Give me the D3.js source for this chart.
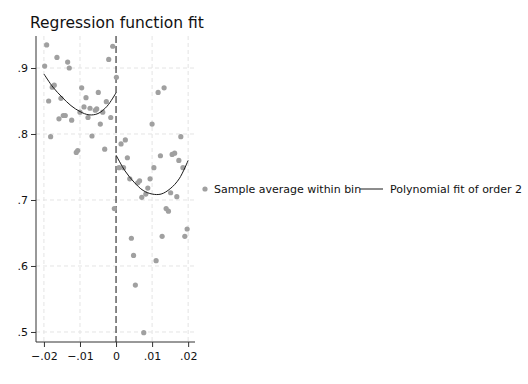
<!DOCTYPE html>
<html>
<head lang="en">
    <meta charset="UTF-8">
    <title></title>
    <script src="https://cdnjs.cloudflare.com/ajax/libs/d3/7.8.5/d3.min.js"></script>
    <style>
        body { margin: 0; background: #fff; }
        text { font-family: "DejaVu Sans", sans-serif; }
    </style>
</head>
<body>

<script>

    // bin averages, left of cutoff
    var leftX = [-0.0198, -0.01925, -0.01869, -0.01814, -0.01769, -0.01714, -0.01639, -0.01583, -0.01528, -0.01464,
                 -0.01408, -0.01342, -0.01297, -0.01231, -0.01103, -0.01064, -0.0100, -0.00953, -0.00889, -0.00833,
                 -0.00778, -0.00722, -0.00667, -0.00575, -0.00536, -0.00492, -0.00436, -0.00369, -0.00314, -0.00269,
                 -0.00203, -0.00147, -0.00092, -0.00047, 0.0001];
    var leftY = [0.903, 0.935, 0.850, 0.796, 0.871, 0.874, 0.916, 0.823, 0.854, 0.828,
                 0.828, 0.909, 0.900, 0.821, 0.772, 0.775, 0.833, 0.870, 0.841, 0.855,
                 0.825, 0.839, 0.797, 0.836, 0.838, 0.863, 0.815, 0.833, 0.777, 0.849,
                 0.913, 0.825, 0.933, 0.687, 0.886];

    // bin averages, right of cutoff
    var rightX = [0.00083, 0.00139, 0.00208, 0.00258, 0.00314, 0.00381, 0.00425, 0.00486, 0.00536, 0.00603,
                  0.00653, 0.00714, 0.00769, 0.00825, 0.00881, 0.00944, 0.0100, 0.0105, 0.01111, 0.01167,
                  0.01231, 0.01278, 0.01333, 0.01389, 0.01453, 0.01514, 0.01556, 0.01625, 0.01686, 0.01742,
                  0.01797, 0.01856, 0.01908, 0.01972];
    var rightY = [0.749, 0.785, 0.749, 0.791, 0.764, 0.732, 0.642, 0.616, 0.571, 0.726,
                  0.729, 0.704, 0.499, 0.709, 0.718, 0.732, 0.815, 0.749, 0.608, 0.863,
                  0.767, 0.645, 0.870, 0.687, 0.683, 0.711, 0.769, 0.771, 0.705, 0.760,
                  0.796, 0.749, 0.645, 0.656];

    // fitted curve
    var fitLeftX = [-0.02, -0.0175, -0.015, -0.0125, -0.01, -0.0075, -0.005, -0.0025, 0];
    var fitLeftY = [0.891, 0.871, 0.856, 0.843, 0.834, 0.829, 0.831, 0.842, 0.8625];
    var fitRightX = [0, 0.0025, 0.005, 0.0075, 0.01, 0.0125, 0.015, 0.0175, 0.02];
    var fitRightY = [0.768, 0.744, 0.727, 0.7145, 0.709, 0.709, 0.717, 0.732, 0.760];

    var xTicks = [-0.02, -0.01, 0, 0.01, 0.02];
    var yTicks = [0.5, 0.6, 0.7, 0.8, 0.9];

    var width = 528;
    var height = 384;

    var svg = d3.select("body")
            .append("svg")
            .attr("width", width)
            .attr("height", height);

    var x = d3.scaleLinear().domain([-0.0222, 0.0219]).range([36, 195]);
    var y = d3.scaleLinear().domain([0.4848, 0.9485]).range([342, 36]);

    function fmt(d) {
        if (d === 0) return "0";
        return d3.format(".2~f")(d).replace("0.", ".");
    }

    // grid
    svg.selectAll(".gx")
            .data(xTicks.filter(function(d){ return d !== 0; }))
            .enter()
            .append("line")
            .attr("x1", function(d){ return x(d); })
            .attr("x2", function(d){ return x(d); })
            .attr("y1", 36)
            .attr("y2", 342)
            .attr("stroke", "#e4e4e4")
            .attr("stroke-dasharray", "4,3");

    svg.selectAll(".gy")
            .data(yTicks)
            .enter()
            .append("line")
            .attr("x1", 36)
            .attr("x2", 195)
            .attr("y1", function(d){ return y(d); })
            .attr("y2", function(d){ return y(d); })
            .attr("stroke", "#e4e4e4")
            .attr("stroke-dasharray", "4,3");

    // axes
    var xAxis = d3.axisBottom(x).tickValues(xTicks).tickFormat(fmt).tickSize(5).tickSizeOuter(0);
    var yAxis = d3.axisLeft(y).tickValues(yTicks).tickFormat(fmt).tickSize(5).tickSizeOuter(0);

    var gx = svg.append("g").attr("transform", "translate(0,342)").call(xAxis);
    var gy = svg.append("g").attr("transform", "translate(36,0)").call(yAxis);

    gx.select(".domain").attr("d", "M36,0H195").attr("stroke", "#333");
    gy.select(".domain").attr("d", "M0,36V342").attr("stroke", "#333");
    [gx, gy].forEach(function(g){
        g.selectAll(".tick line").attr("stroke", "#333");
        g.selectAll(".tick text")
                .attr("fill", "#111")
                .style("font-family", "DejaVu Sans")
                .style("font-size", "11px");
    });
    gx.selectAll(".tick text").attr("dy", "0.95em");

    // cutoff
    svg.append("line")
            .attr("x1", x(0))
            .attr("x2", x(0))
            .attr("y1", 36)
            .attr("y2", 342)
            .attr("stroke", "#111")
            .attr("stroke-dasharray", "7,3");

    var dots = d3.zip(leftX, leftY).concat(d3.zip(rightX, rightY));

    svg.selectAll(".dot")
            .data(dots)
            .enter()
            .append("circle")
            .attr("cx", function(d){ return x(d[0]); })
            .attr("cy", function(d){ return y(d[1]); })
            .attr("r", 2.6)
            .attr("fill", "#a0a0a0");

    var line = d3.line()
            .x(function(d){ return x(d[0]); })
            .y(function(d){ return y(d[1]); })
            .curve(d3.curveCatmullRom);

    [d3.zip(fitLeftX, fitLeftY), d3.zip(fitRightX, fitRightY)].forEach(function(pts){
        svg.append("path")
                .attr("d", line(pts))
                .attr("fill", "none")
                .attr("stroke", "#1a1a1a")
                .attr("stroke-width", 1);
    });

    // title
    svg.append("text")
            .attr("x", 30)
            .attr("y", 28)
            .attr("font-size", 15.5)
            .attr("fill", "#111")
            .text("Regression function fit");

    // legend
    svg.append("circle")
            .attr("cx", 205)
            .attr("cy", 189)
            .attr("r", 2.6)
            .attr("fill", "#a0a0a0");
    svg.append("text")
            .attr("x", 214)
            .attr("y", 193)
            .attr("font-size", 11)
            .attr("fill", "#111")
            .text("Sample average within bin");
    svg.append("line")
            .attr("x1", 360)
            .attr("x2", 383)
            .attr("y1", 189)
            .attr("y2", 189)
            .attr("stroke", "#1a1a1a");
    svg.append("text")
            .attr("x", 390)
            .attr("y", 193)
            .attr("font-size", 11)
            .attr("fill", "#111")
            .text("Polynomial fit of order 2");

</script>

</body>
</html>
